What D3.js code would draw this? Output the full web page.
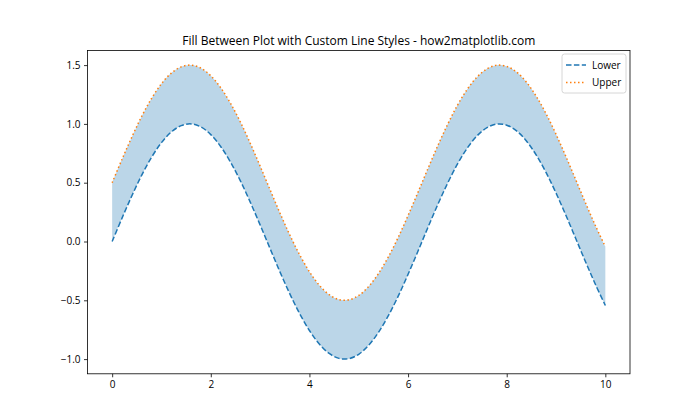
<!DOCTYPE html>
<html><head><meta charset="utf-8">
<script src="https://cdn.jsdelivr.net/npm/d3@7"></script>
<style>body{margin:0;background:#fff}svg{display:block;font-family:"Open Sans","Noto Sans",sans-serif}</style>
</head><body><svg id="c" width="700" height="420"></svg>
<script>
const xs = [0,0.2,0.4,0.6,0.8,1.0,1.2,1.4,1.6,1.8,2.0,2.2,2.4,2.6,2.8,3.0,3.2,3.4,3.6,3.8,4.0,4.2,4.4,4.6,4.8,5.0,5.2,5.4,5.6,5.8,6.0,6.2,6.4,6.6,6.8,7.0,7.2,7.4,7.6,7.8,8.0,8.2,8.4,8.6,8.8,9.0,9.2,9.4,9.6,9.8,10.0];
const lower = [0.000,0.199,0.389,0.565,0.717,0.841,0.932,0.985,1.000,0.974,0.909,0.808,0.675,0.516,0.335,0.141,-0.058,-0.256,-0.443,-0.612,-0.757,-0.872,-0.952,-0.994,-0.996,-0.959,-0.883,-0.773,-0.631,-0.465,-0.279,-0.083,0.117,0.312,0.494,0.657,0.794,0.899,0.968,0.999,0.989,0.941,0.855,0.734,0.585,0.412,0.223,0.025,-0.174,-0.366,-0.544];
const upper = [0.500,0.699,0.889,1.065,1.217,1.341,1.432,1.485,1.500,1.474,1.409,1.308,1.175,1.016,0.835,0.641,0.442,0.244,0.057,-0.112,-0.257,-0.372,-0.452,-0.494,-0.496,-0.459,-0.383,-0.273,-0.131,0.035,0.221,0.417,0.617,0.812,0.994,1.157,1.294,1.399,1.468,1.499,1.489,1.441,1.355,1.234,1.085,0.912,0.723,0.525,0.326,0.134,-0.044];
const xTicks = [0,2,4,6,8,10];
const yTicks = [-1.0,-0.5,0.0,0.5,1.0,1.5];
const seriesNames = ["Lower","Upper"];
const title = "Fill Between Plot with Custom Line Styles - how2matplotlib.com";

const L=87.5,R=630,T=50.4,B=373.8;
const svg=d3.select("#c");
const x=d3.scaleLinear().domain([-0.5,10.5]).range([L,R]);
const y=d3.scaleLinear().domain([-1.125,1.625]).range([B,T]);
const data=xs.map((v,i)=>({x:v,lo:lower[i],hi:upper[i]}));
const curve=d3.curveCatmullRom;

svg.append("path").datum(data)
  .attr("d",d3.area().x(d=>x(d.x)).y0(d=>y(d.lo)).y1(d=>y(d.hi)).curve(curve))
  .attr("fill","#1f77b4").attr("fill-opacity",0.3);
svg.append("path").datum(data)
  .attr("d",d3.line().x(d=>x(d.x)).y(d=>y(d.lo)).curve(curve))
  .attr("fill","none").attr("stroke","#1f77b4").attr("stroke-width",1.5).attr("stroke-dasharray","5.5,2.4");
svg.append("path").datum(data)
  .attr("d",d3.line().x(d=>x(d.x)).y(d=>y(d.hi)).curve(curve))
  .attr("fill","none").attr("stroke","#ff7f0e").attr("stroke-width",1.5).attr("stroke-dasharray","1.5,2.5");

const xa=svg.append("g").attr("transform",`translate(0,${B})`)
  .call(d3.axisBottom(x).tickValues(xTicks).tickFormat(d3.format("d")).tickSize(3.5).tickPadding(3.5));
const ya=svg.append("g").attr("transform",`translate(${L},0)`)
  .call(d3.axisLeft(y).tickValues(yTicks).tickFormat(d3.format(".1f")).tickSize(3.5).tickPadding(3.5));
[xa,ya].forEach(a=>{a.select(".domain").remove();a.selectAll("line").attr("stroke","#000").attr("stroke-width",0.8);
  a.selectAll("text").attr("font-size",10).attr("fill","#000").attr("font-family","'Open Sans','Noto Sans',sans-serif");});
svg.append("rect").attr("x",L).attr("y",T).attr("width",R-L).attr("height",B-T)
  .attr("fill","none").attr("stroke","#000").attr("stroke-width",0.8);

svg.append("text").attr("x",(L+R)/2).attr("y",45).attr("text-anchor","middle")
  .attr("font-size",12).attr("fill","#000").text(title);

const lg=svg.append("g");
lg.append("rect").attr("x",562).attr("y",54).attr("width",64).attr("height",39).attr("rx",2.5)
  .attr("fill","#fff").attr("fill-opacity",0.8).attr("stroke","#ccc").attr("stroke-width",0.8);
const styles=[{c:"#1f77b4",d:"5.5,2.4"},{c:"#ff7f0e",d:"1.5,2.5"}];
seriesNames.forEach((n,i)=>{
  const yy=65+i*17.5;
  lg.append("line").attr("x1",566).attr("x2",586).attr("y1",yy).attr("y2",yy)
    .attr("stroke",styles[i].c).attr("stroke-width",1.5).attr("stroke-dasharray",styles[i].d);
  lg.append("text").attr("x",592).attr("y",yy+3.5).attr("font-size",10).attr("fill","#000").text(n);
});
</script></body></html>
